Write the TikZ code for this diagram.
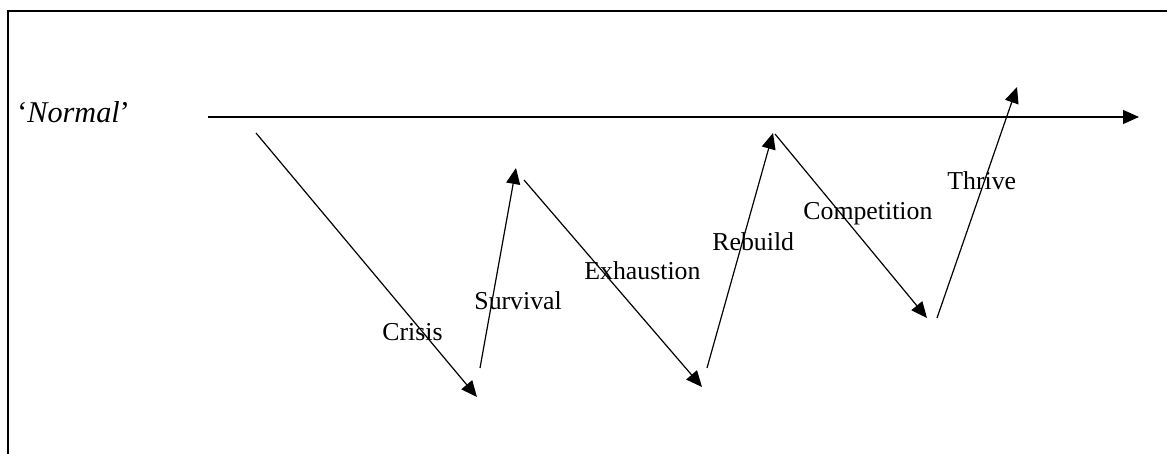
\documentclass[tikz,border=0pt]{standalone}
\usepackage{fontspec}
\setmainfont{Liberation Serif}
\usetikzlibrary{arrows.meta}

\begin{document}
\begin{tikzpicture}[
x=0.5pt, y=-0.5pt,
  flow/.style = {-{Triangle[length=8pt,width=7pt]},% arrows of the cycle
                 line width=0.6pt},
   lbl/.style = {anchor=base west, inner sep=0pt,% phase names
                 font=\fontsize{12.9}{15}\selectfont},
                        ]
\useasboundingbox (0,0) rectangle (1167,454);
\draw[line width=1.4pt] (8,454) -- (8,11) -- (1167,11);
% level line
\node[lbl, font=\fontsize{15.1}{18}\selectfont] (normal) at (17,123) {‘\textit{Normal}’};
\coordinate (n1) at (208,117);
\coordinate (n2) at (1139,117);
\draw[flow] (n1) -- (n2);
% ends of the arrows
\coordinate (c1) at (256,133);  \coordinate (c2) at (477,397);
\coordinate (s1) at (480,368);  \coordinate (s2) at (516,168);
\coordinate (e1) at (524,180);  \coordinate (e2) at (702,387);
\coordinate (r1) at (707,368);  \coordinate (r2) at (773,133);
\coordinate (p1) at (775,134);  \coordinate (p2) at (927,318);
\coordinate (t1) at (937,318);  \coordinate (t2) at (1017,87);
\foreach \a/\b in {c1/c2,s1/s2,e1/e2,r1/r2,p1/p2,t1/t2}% <-- arrows
    \draw[flow] (\a) -- (\b);
\foreach \t/\x/\y in {Crisis/382/340,Survival/474/309,Exhaustion/584/279,
                      Rebuild/712/250,Competition/803/220,Thrive/947/190}% <-- labels
    \node[lbl] (\t) at (\x,\y) {\t};
\end{tikzpicture}
\end{document}
